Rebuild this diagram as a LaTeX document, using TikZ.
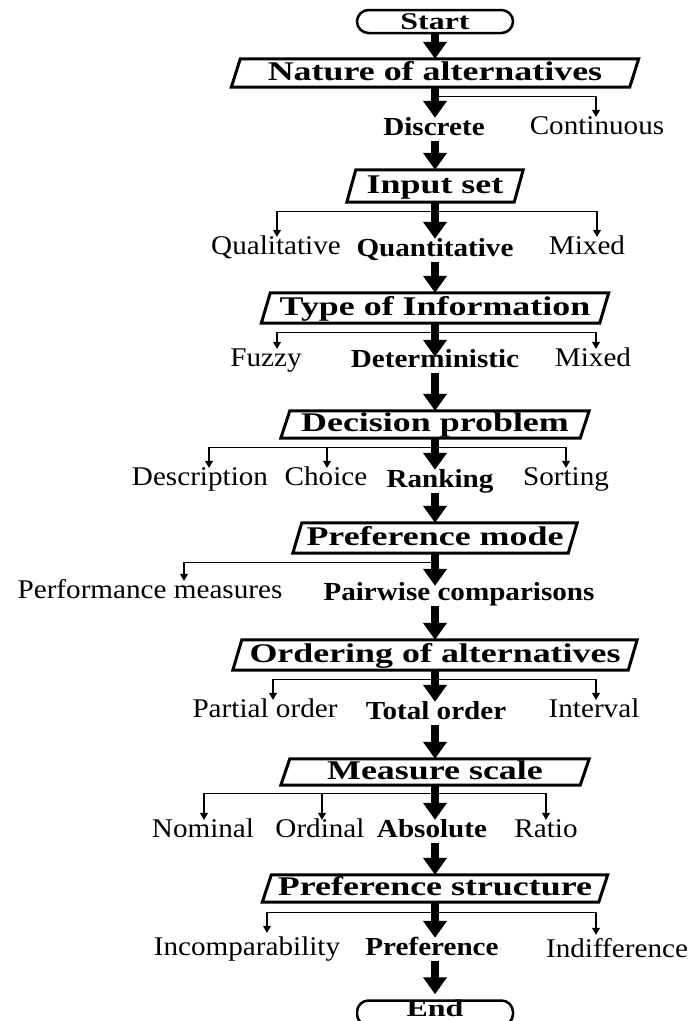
\documentclass[tikz,border=0pt]{standalone}
\usepackage{fontspec}
\setmainfont{Liberation Serif}
\usetikzlibrary{arrows.meta,calc}
\newcommand\hx[1]{\scalebox{1.33}[1]{#1}}
\newcommand\ox[1]{\scalebox{1.08}[1]{#1}}
\newcommand\bx[1]{\scalebox{1.12}[1]{#1}}
\newcommand\pgram[5]{%
  \node[headtxt, minimum width=#3pt, minimum height=#4pt] (#1) at (435,#2) {\hx{#5}};
  \draw[boxline] ([xshift=4.5pt]#1.north west) -- ([xshift=4.5pt]#1.north east)
    -- ([xshift=-4.5pt]#1.south east) -- ([xshift=-4.5pt]#1.south west) -- cycle;}
\begin{document}
\begin{tikzpicture}[x=1pt,y=-1pt,
 optn/.style={inner sep=0pt, anchor=base, text height=17pt, text depth=6pt, font=\fontsize{27}{30}\selectfont},
 optb/.style={optn, font=\fontsize{26}{30}\selectfont\bfseries},
 headtxt/.style={inner sep=0pt, text height=18pt, text depth=4pt, font=\fontsize{27}{30}\selectfont\bfseries},
 term/.style={draw, line width=2.5pt, rounded corners=11.5pt, inner sep=0pt, minimum width=156pt, minimum height=23pt, text height=16pt, text depth=0pt, font=\fontsize{24}{28}\selectfont\bfseries},
 boxline/.style={line width=3pt, line join=miter},
 main/.style={line width=7.5pt, -{Triangle[width=23pt,length=17pt]}},
 branch/.style={line width=1.2pt, -{Triangle[width=8pt,length=7pt]}},
]
\useasboundingbox (0,0) rectangle (690,1021);
\clip (0,0) rectangle (690,1021);
\fill[white] (0,0) rectangle (690,1021);

\node[term] (start) at (435,21.5) {\hx{Start}};
\pgram{nat}{73}{398}{28}{Nature of alternatives}
\node[optb] (disc) at (434,135) {\bx{Discrete}};
\node[optn] (cont) at (597,134) {\ox{Continuous}};
\pgram{inp}{186}{167}{32}{Input set}
\node[optn] (qual) at (276,254) {\ox{Qualitative}};
\node[optb] (quan) at (435,256) {\bx{Quantitative}};
\node[optn] (mix1) at (587,254) {\ox{Mixed}};
\pgram{typ}{308}{338}{30}{Type of Information}
\node[optn] (fuz) at (266,366) {\ox{Fuzzy}};
\node[optb] (det) at (435,367) {\bx{Deterministic}};
\node[optn] (mix2) at (593,366) {\ox{Mixed}};
\pgram{dec}{424.5}{299}{27}{Decision problem}
\node[optn] (desc) at (200,485) {\ox{Description}};
\node[optn] (cho) at (326,485) {\ox{Choice}};
\node[optb] (rank) at (440,487) {\bx{Ranking}};
\node[optn] (sort) at (566,485) {\ox{Sorting}};
\pgram{pm}{538}{275}{30}{Preference mode}
\node[optn] (perf) at (150,598) {\ox{Performance measures}};
\node[optb] (pair) at (459,600) {\bx{Pairwise comparisons}};
\pgram{ord}{655}{395}{30}{Ordering of alternatives}
\node[optn] (part) at (265,717) {\ox{Partial order}};
\node[optb] (tot) at (436,719) {\bx{Total order}};
\node[optn] (intv) at (594,717) {\ox{Interval}};
\pgram{mea}{772}{299}{26}{Measure scale}
\node[optn] (nom) at (203,837) {\ox{Nominal}};
\node[optn] (ordl) at (320,837) {\ox{Ordinal}};
\node[optb] (abs) at (432,837) {\bx{Absolute}};
\node[optn] (rat) at (546,837) {\ox{Ratio}};
\pgram{ps}{888.5}{336}{27}{Preference structure}
\node[optn] (inc) at (247,955) {\ox{Incomparability}};
\node[optb] (pref) at (432,955) {\bx{Preference}};
\node[optn] (ind) at (617,957) {\ox{Indifference}};
\node[term, text depth=9pt] (end) at (435,1013) {\hx{End}};

% branches
\draw[branch] ([yshift=-9pt]nat.south) -| ([xshift=-1pt]cont.north);
\draw[branch] ([yshift=-9pt]inp.south) -| ([xshift=1pt]qual.north);
\draw[branch] ([yshift=-9pt]inp.south) -| ([xshift=10pt]mix1.north);
\draw[branch] ([yshift=-9pt]typ.south) -| ([xshift=11pt]fuz.north);
\draw[branch] ([yshift=-9pt]typ.south) -| ([xshift=3pt]mix2.north);
\draw[branch] ([yshift=-9pt]dec.south) -| ([xshift=9pt]desc.north);
\draw[branch] ([yshift=-9pt]dec.south) -| ([xshift=1pt]cho.north);
\draw[branch] ([yshift=-9pt]dec.south) -| (sort.north);
\draw[branch] ([yshift=-9pt]pm.south) -| ([xshift=34pt]perf.north);
\draw[branch] ([yshift=-9pt]ord.south) -| ([xshift=8pt]part.north);
\draw[branch] ([yshift=-9pt]ord.south) -| ([xshift=2pt]intv.north);
\draw[branch] ([yshift=-8pt]mea.south) -| ([xshift=1pt]nom.north);
\draw[branch] ([yshift=-8pt]mea.south) -| ([xshift=2pt]ordl.north);
\draw[branch] ([yshift=-8pt]mea.south) -| (rat.north);
\draw[branch, shorten >=5pt] ([yshift=-10pt]ps.south) -| ([xshift=20pt]inc.north);
\draw[branch, shorten >=5pt] ([yshift=-10pt]ps.south) -| ([xshift=-21pt]ind.north);

% main flow
\draw[main] (start.south) -- (nat.north);
\draw[main] (nat.south) -- (nat.south |- disc.north);
\draw[main] (inp.north |- disc.south) -- (inp.north);
\draw[main] (inp.south) -- (inp.south |- quan.north);
\draw[main] (typ.north |- quan.south) -- (typ.north);
\draw[main, shorten >=-7pt] (typ.south) -- (typ.south |- det.north);
\draw[main] (dec.north |- det.south) -- (dec.north);
\draw[main] (dec.south) -- (dec.south |- rank.north);
\draw[main] (pm.north |- rank.south) -- (pm.north);
\draw[main, shorten >=-3pt] (pm.south) -- (pm.south |- pair.north);
\draw[main] (ord.north |- pair.south) -- (ord.north);
\draw[main] (ord.south) -- (ord.south |- tot.north);
\draw[main] (mea.north |- tot.south) -- (mea.north);
\draw[main] (mea.south) -- (mea.south |- abs.north);
\draw[main] (ps.north |- abs.south) -- (ps.north);
\draw[main] (ps.south) -- (ps.south |- pref.north);
\draw[main, shorten >=5pt] (end.north |- pref.south) -- (end.north);
\end{tikzpicture}
\end{document}
